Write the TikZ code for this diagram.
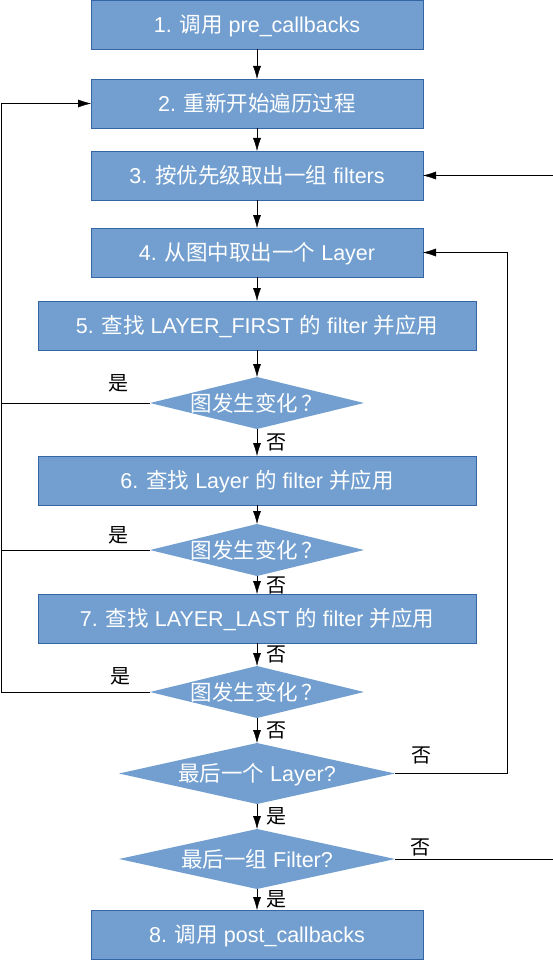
\documentclass[tikz,border=0pt]{standalone}
\usepackage{fontspec}
\setmainfont{Liberation Sans}
\newfontfamily\cjk{Noto Sans CJK SC}
\usetikzlibrary{
  shapes.geometric, % Shape "diamond"
  arrows.meta,
  positioning,      % Function "of" (e.g. [below=of x])
}
\newcommand{\zh}[1]{{\cjk #1}}
\definecolor{boxfill}{HTML}{729FCF}
\definecolor{boxline}{HTML}{3465A4}
\def\myvdist{25pt}
\tikzset{
  font=\fontsize{21.5}{26}\selectfont,
  line width=1pt,
  >={Latex[length=13pt,width=8pt]},
  my box/.style={
    draw=boxline,
    fill=boxfill,
    text=white,
    minimum width=332pt,
    minimum height=49pt,
    text height=16pt,
    text depth=0pt,
    inner sep=0pt,
    outer sep=0pt,
    rectangle
  },
  my wide box/.style={
    my box,
    minimum width=438pt
  },
  my cond/.style={
    fill=boxfill,
    text=white,
    diamond,
    aspect=4.2,
    minimum width=214pt,
    minimum height=52pt,
    text height=16pt,
    text depth=0pt,
    inner sep=0pt,
    outer sep=0pt
  },
  my big cond/.style={
    my cond,
    aspect=4.5,
    minimum width=276pt,
    minimum height=61pt
  },
  lab/.style={
    font=\fontsize{20}{24}\selectfont\cjk,
    text=black,
    inner sep=0pt
  }
}

\begin{document}
\begin{tikzpicture}[x=1pt,y=1pt,node distance=\myvdist]
\useasboundingbox (0,0) rectangle (552,-960);
% Main column
\node[my box] (b1) at (257,-24.5) {1. \zh{调用} pre\_callbacks};
\node[my box,below=30pt of b1]       (b2) {2. \zh{重新开始遍历过程}};
\node[my box,below=23pt of b2]       (b3) {3. \zh{按优先级取出一组} filters};
\node[my box,below=28pt of b3]       (b4) {4. \zh{从图中取出一个} Layer};
\node[my wide box,below=24pt of b4]  (b5) {5. \zh{查找} LAYER\_FIRST \zh{的} filter \zh{并应用}};
\node[my cond,below=27pt of b5]      (d1) {\zh{图发生变化\,？}};
\node[my wide box,below=27pt of d1]  (b6) {6. \zh{查找} Layer \zh{的} filter \zh{并应用}};
\node[my cond,below=19pt of b6]      (d2) {\zh{图发生变化\,？}};
\node[my wide box,below=18pt of d2]  (b7) {7. \zh{查找} LAYER\_LAST \zh{的} filter \zh{并应用}};
\node[my cond,below=23pt of b7]      (d3) {\zh{图发生变化\,？}};
\node[my big cond,below=25pt of d3]  (d4) {\zh{最后一个} Layer?};
\node[my big cond,minimum height=60pt,below=25pt of d4] (d5) {\zh{最后一组} Filter?};
\node[my box,below=21pt of d5]       (b8) {8. \zh{调用} post\_callbacks};
% Free ends of the loops
\coordinate (lft) at (1,0);
\coordinate (rgt) at (507,0);
\coordinate (far) at (553,0);
% Straight arrows
\draw[->] (b1) -- (b2);
\draw[->] (b2) -- (b3);
\draw[->] (b3) -- (b4);
\draw[->] (b4) -- (b5);
\draw[->] (b5) -- (d1);
\draw[->] (d1) -- node[lab,right=9pt] {否} (b6);
\draw[->] (b6) -- (d2);
\draw[->] (d2) -- node[lab,right=9pt] {否} (b7);
\draw[->] (b7) -- node[lab,right=9pt] {否} (d3);
\draw[->] (d3) -- node[lab,right=9pt] {否} (d4);
\draw[->] (d4) -- node[lab,right=9pt] {是} (d5);
\draw[->] (d5) -- node[lab,right=9pt] {是} (b8);
% Left loop back to 2
\draw (d1.west) -- node[lab,pos=0.21,above=11pt] {是} (d1.west -| lft);
\draw (d2.west) -- node[lab,pos=0.21,above=6pt] {是} (d2.west -| lft);
\draw[->] (d3.west) -- node[lab,pos=0.2,above=7pt] {是} (d3.west -| lft) |- (b2.west);
% Right loops back to 4 and 3
\draw[->] (d4.east) -- node[lab,pos=0.24,above=9pt] {否} (d4.east -| rgt) |- (b4.east);
\draw[->] (d5.east) -- node[lab,pos=0.16,above=3pt] {否} (d5.east -| far) |- (b3.east);
\end{tikzpicture}
\end{document}
